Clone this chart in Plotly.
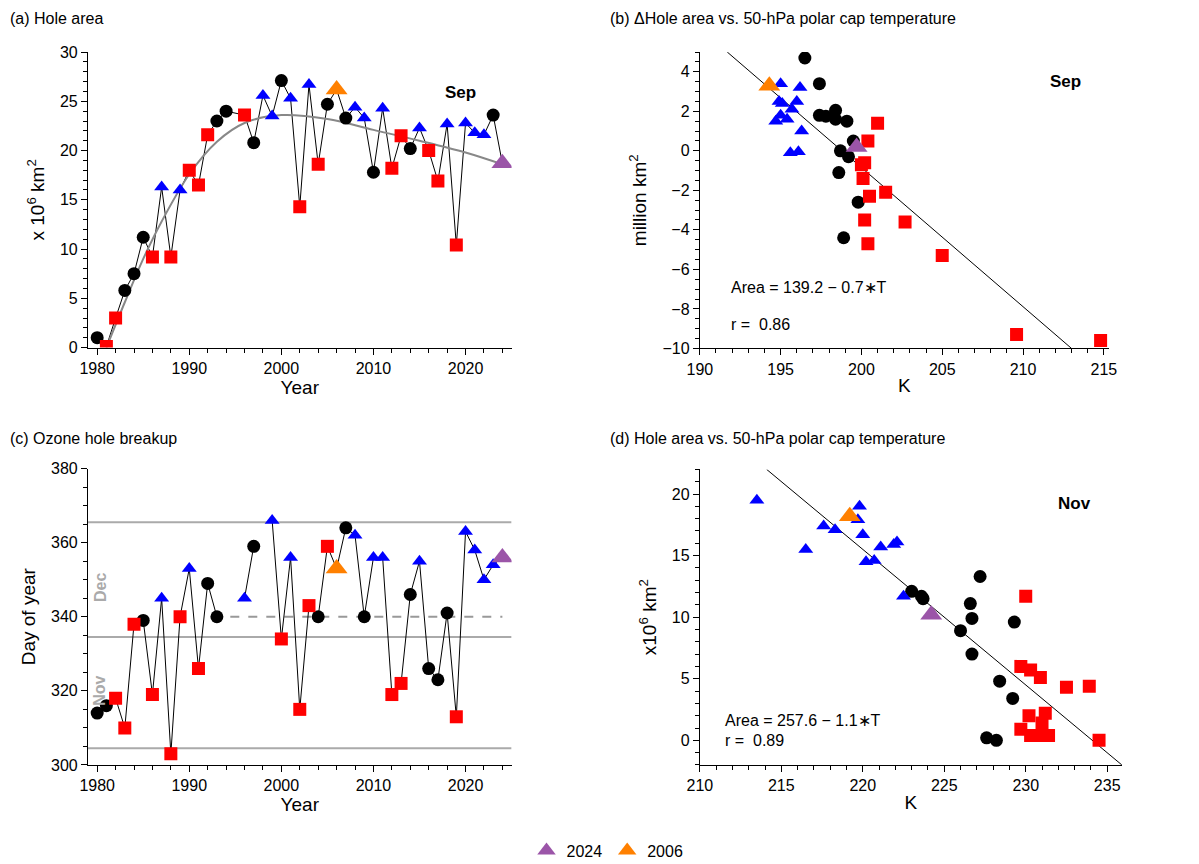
import plotly.graph_objects as go

# panel (a) September hole area
years_a = list(range(1980, 1995)) + list(range(1996, 2025))
area_a = [1.0, 0.1, 3.0, 5.8, 7.5, 11.2, 9.2, 16.3, 9.2, 16.0, 18.0, 16.5, 21.6, 23.0, 24.0,
          23.6, 20.8, 25.6, 23.5, 27.1, 25.3, 14.3, 26.7, 18.6, 24.7, 26.2, 23.3, 24.4, 23.3,
          17.8, 24.3, 18.2, 21.5, 20.2, 22.3, 20.0, 16.9, 22.7, 10.4, 22.8, 21.8, 21.6, 23.6, 18.7]
cat_a = ["k", "r", "r", "k", "k", "k", "r", "b", "r", "b", "r", "r", "r", "k", "k",
         "r", "k", "b", "b", "k", "b", "r", "b", "r", "k", "o", "k", "b", "b",
         "k", "b", "r", "r", "k", "b", "r", "r", "b", "r", "b", "b", "b", "k", "p"]
fit_years = [1981, 1983, 1985, 1987, 1990, 1993, 1996, 2000, 2005, 2010, 2015, 2020, 2024]
fit_area = [0.0, 4.6, 9.0, 12.8, 17.6, 20.9, 22.8, 23.6, 23.2, 22.1, 21.0, 19.8, 18.6]

# panel (c) breakup day
years_c = list(range(1980, 1994)) + [1996, 1997] + list(range(1999, 2025))
day_c = [314, 316, 318, 310, 338, 339, 319, 345, 303, 340, 353, 326, 349, 340,
         345, 359,
         366, 334, 356, 315, 343, 340, 359, 353, 364, 362, 340, 356, 356, 319, 322,
         346, 355, 326, 323, 341, 313, 363, 358, 350, 354, 356]
cat_c = ["k", "k", "r", "r", "r", "k", "r", "b", "r", "r", "b", "r", "k", "k",
         "b", "k",
         "b", "r", "b", "r", "r", "k", "r", "o", "k", "b", "k", "b", "b", "r", "r",
         "k", "b", "k", "k", "k", "r", "b", "b", "b", "b", "p"]

# panel (b) delta area vs temperature (Sep)
temp_b = [195.0, 196.2, 194.7, 194.9, 195.1, 195.4, 195.7, 196.0, 196.3, 195.6, 196.1, 195.0,
          194.3,
          196.5, 197.4, 197.4, 197.8, 198.4, 198.4, 199.1, 198.7, 199.2, 198.6, 199.8, 198.9, 199.5,
          199.7,
          201.0, 200.4, 200.2, 200.0, 200.1, 200.5, 201.5, 200.2, 200.4, 202.7, 205.0, 209.6, 214.8]
darea_b = [3.4, 3.2, 1.5, 2.5, 2.4, 1.6, 2.1, 2.5, 1.0, -0.1, -0.05, 1.8,
           3.3,
           4.7, 3.4, 1.8, 1.75, 2.05, 1.6, 1.5, 0.0, -0.3, -1.1, -2.6, -4.4, 0.5,
           0.2,
           1.4, 0.5, -0.6, -0.7, -1.4, -2.3, -2.1, -3.5, -4.7, -3.6, -5.3, -9.3, -9.6]
cat_b = ["b"] * 12 + ["o"] + ["k"] * 13 + ["p"] + ["r"] * 13
fit_b_t = [191.7, 213.0]
fit_b_a = [5.0, -10.0]

# panel (d) area vs temperature (Nov)
temp_d = [213.5, 216.5, 217.6, 218.3, 219.8, 219.7, 220.0, 220.2, 220.7, 221.1, 221.9, 222.1, 222.5,
          219.2, 224.2,
          223.0, 223.6, 223.7, 227.2, 226.6, 226.7, 229.3, 226.0, 226.7, 228.4, 229.2, 227.6, 228.2,
          230.0, 229.7, 230.3, 230.9, 232.5, 233.9, 230.2, 231.2, 229.7, 230.3, 230.9, 231.0, 231.4, 234.5]
area_d = [19.5, 15.5, 17.4, 17.1, 19.0, 17.9, 16.7, 14.5, 14.6, 15.7, 15.9, 16.1, 11.7,
          18.2, 10.2,
          12.1, 11.7, 11.5, 13.3, 11.1, 9.9, 9.6, 8.9, 7.0, 4.8, 3.4, 0.2, 0.0,
          11.7, 6.0, 5.7, 5.1, 4.3, 4.4, 2.0, 2.2, 0.9, 0.4, 0.4, 1.4, 0.4, 0.0]
cat_d = ["b"] * 13 + ["o", "p"] + ["k"] * 13 + ["r"] * 14
fit_d_t = [214.1, 235.9]
fit_d_a = [22.0, -2.0]

style = {
    "k": dict(color="black", symbol="circle", size=13),
    "r": dict(color="#ff0000", symbol="square", size=13),
    "b": dict(color="#0000ff", symbol="triangle-up", size=13),
    "o": dict(color="#ff8000", symbol="triangle-up", size=19),
    "p": dict(color="#9b55a8", symbol="triangle-up", size=19),
}
order = ["k", "r", "b", "o", "p"]

fig = go.Figure()

def add_points(xs, ys, cats, xa, ya):
    for c in order:
        px_ = [x for x, k in zip(xs, cats) if k == c]
        py_ = [y for y, k in zip(ys, cats) if k == c]
        fig.add_trace(go.Scatter(x=px_, y=py_, mode="markers", xaxis=xa, yaxis=ya,
                                 marker=dict(style[c], line_width=0), showlegend=False))

def with_gaps(xs, ys):
    gx, gy = [], []
    for i, (x, y) in enumerate(zip(xs, ys)):
        if i > 0 and x - xs[i - 1] > 1:
            gx.append(None); gy.append(None)
        gx.append(x); gy.append(y)
    return gx, gy

# (a)
fig.add_trace(go.Scatter(x=years_a, y=area_a, mode="lines", line=dict(color="black", width=1),
                         xaxis="x", yaxis="y", showlegend=False))
fig.add_trace(go.Scatter(x=fit_years, y=fit_area, mode="lines", line=dict(color="#888888", width=2, shape="spline"),
                         xaxis="x", yaxis="y", showlegend=False))
add_points(years_a, area_a, cat_a, "x", "y")

# (b)
fig.add_trace(go.Scatter(x=fit_b_t, y=fit_b_a, mode="lines", line=dict(color="black", width=1),
                         xaxis="x2", yaxis="y2", showlegend=False))
add_points(temp_b, darea_b, cat_b, "x2", "y2")

# (c)
gx, gy = with_gaps(years_c, day_c)
fig.add_trace(go.Scatter(x=gx, y=gy, mode="lines", line=dict(color="black", width=1),
                         xaxis="x3", yaxis="y3", showlegend=False))
add_points(years_c, day_c, cat_c, "x3", "y3")

# (d)
fig.add_trace(go.Scatter(x=fit_d_t, y=fit_d_a, mode="lines", line=dict(color="black", width=1),
                         xaxis="x4", yaxis="y4", showlegend=False))
add_points(temp_d, area_d, cat_d, "x4", "y4")

# legend entries
fig.add_trace(go.Scatter(x=[None], y=[None], mode="markers", name="2024", marker=style["p"]))
fig.add_trace(go.Scatter(x=[None], y=[None], mode="markers", name="2006", marker=style["o"]))

# month boundary lines in (c)
for d in [304.5, 334.5, 365.5]:
    fig.add_shape(type="line", xref="x3", yref="y3", x0=1979, x1=2025, y0=d, y1=d,
                  line=dict(color="#aaaaaa", width=2), layer="below")
fig.add_shape(type="line", xref="x3", yref="y3", x0=1992.5, x1=2024, y0=340, y1=340,
              line=dict(color="#999999", width=2, dash="dash"), layer="below")

ax = dict(showline=True, linecolor="black", linewidth=1, ticks="outside", ticklen=6,
          tickcolor="black", showgrid=False, zeroline=False, mirror=False,
          tickfont=dict(size=16, color="black"))
mn = dict(ticks="outside", ticklen=4, tickcolor="black")

fig.update_layout(
    width=1199, height=864, plot_bgcolor="white", paper_bgcolor="white",
    margin=dict(l=0, r=0, t=0, b=0, autoexpand=False),
    font=dict(family="Liberation Sans, Arial", size=16, color="black"),
    xaxis=dict(ax, domain=[0.0667, 0.420], range=[1979, 2025], dtick=10, anchor="y",
               minor=dict(mn, dtick=2), title=dict(text="Year", standoff=2)),
    yaxis=dict(ax, domain=[0.607, 0.949], range=[0, 30], dtick=5, anchor="x",
               minor=dict(mn, dtick=1), title=dict(text="x 10<sup>6</sup> km<sup>2</sup>", standoff=10)),
    xaxis2=dict(ax, domain=[0.577, 0.918], range=[190, 215.3], dtick=5, anchor="y2",
                minor=dict(mn, dtick=1), title=dict(text="K", standoff=2)),
    yaxis2=dict(ax, domain=[0.606, 0.949], range=[-10, 5], dtick=2, anchor="x2",
                minor=dict(mn, dtick=0.5), title=dict(text="million km<sup>2</sup>", standoff=10)),
    xaxis3=dict(ax, domain=[0.0667, 0.420], range=[1979, 2025], dtick=10, anchor="y3",
                minor=dict(mn, dtick=2), title=dict(text="Year", standoff=2)),
    yaxis3=dict(ax, domain=[0.1239, 0.467], range=[300, 380], dtick=20, anchor="x3",
                minor=dict(mn, dtick=5), title=dict(text="Day of year", standoff=10)),
    xaxis4=dict(ax, domain=[0.577, 0.929], range=[210, 235.9], dtick=5, anchor="y4",
                minor=dict(mn, dtick=1), title=dict(text="K", standoff=2)),
    yaxis4=dict(ax, domain=[0.1239, 0.466], range=[-2, 22], dtick=5, anchor="x4",
                minor=dict(mn, dtick=1), title=dict(text="x10<sup>6</sup> km<sup>2</sup>", standoff=10)),
    legend=dict(orientation="h", x=0.5, xanchor="center", y=0.005, yanchor="bottom",
                font=dict(size=16), itemsizing="trace"),
)

ann = [
    dict(text="(a) Hole area", x=0.0, y=1.0, xref="paper", yref="paper"),
    dict(text="(b) ΔHole area vs. 50-hPa polar cap temperature", x=0.500, y=1.0, xref="paper", yref="paper"),
    dict(text="(c) Ozone hole breakup", x=0.0, y=0.514, xref="paper", yref="paper"),
    dict(text="(d) Hole area vs. 50-hPa polar cap temperature", x=0.500, y=0.514, xref="paper", yref="paper"),
]
for a in ann:
    fig.add_annotation(a, showarrow=False, xanchor="left", yanchor="top", font=dict(size=16))

fig.add_annotation(text="<b>Sep</b>", x=2019.5, y=25.9, xref="x", yref="y", showarrow=False, font=dict(size=17))
fig.add_annotation(text="<b>Sep</b>", x=212.6, y=3.5, xref="x2", yref="y2", showarrow=False, font=dict(size=17))
fig.add_annotation(text="<b>Nov</b>", x=233.0, y=19.2, xref="x4", yref="y4", showarrow=False, font=dict(size=17))
fig.add_annotation(text="Area = 139.2 − 0.7∗T", x=191.8, y=-6.9, xref="x2", yref="y2", showarrow=False,
                   xanchor="left", font=dict(size=16))
fig.add_annotation(text="r =  0.86", x=191.8, y=-8.8, xref="x2", yref="y2", showarrow=False,
                   xanchor="left", font=dict(size=16))
fig.add_annotation(text="Area = 257.6 − 1.1∗T", x=211.4, y=1.6, xref="x4", yref="y4", showarrow=False,
                   xanchor="left", font=dict(size=16))
fig.add_annotation(text="r =  0.89", x=211.4, y=0.0, xref="x4", yref="y4", showarrow=False,
                   xanchor="left", font=dict(size=16))
fig.add_annotation(text="<b>Dec</b>", x=1980.3, y=348, xref="x3", yref="y3", showarrow=False,
                   textangle=-90, font=dict(size=16, color="#aaaaaa"))
fig.add_annotation(text="<b>Nov</b>", x=1980.3, y=320, xref="x3", yref="y3", showarrow=False,
                   textangle=-90, font=dict(size=16, color="#aaaaaa"))

fig.write_html("out.html")
